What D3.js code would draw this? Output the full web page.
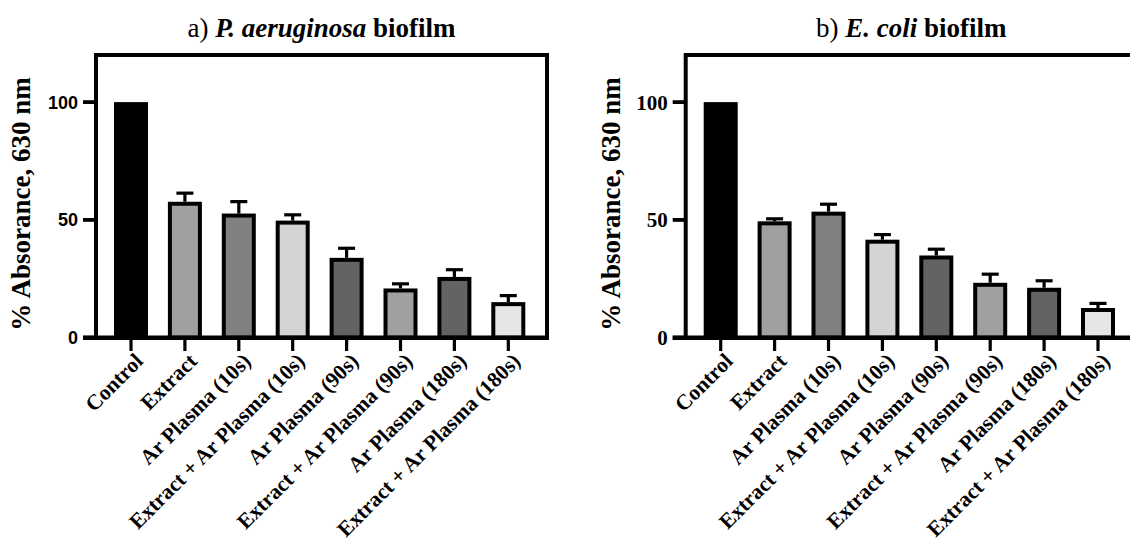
<!DOCTYPE html>
<html><head><meta charset="utf-8">
<script src="https://cdn.jsdelivr.net/npm/d3@7"></script>
<style>html,body{margin:0;padding:0;background:#fff;overflow:hidden}</style>
</head><body>
<svg id="c" width="1130" height="546"></svg>
<script>
const categories = ["Control","Extract","Ar Plasma (10s)","Extract + Ar Plasma (10s)","Ar Plasma (90s)","Extract + Ar Plasma (90s)","Ar Plasma (180s)","Extract + Ar Plasma (180s)"];
const paMeans = [100, 57.7, 52.7, 49.7, 33.9, 20.9, 25.8, 15.1];
const paErr   = [0, 4.3, 5.7, 3.1, 4.7, 2.6, 3.7, 3.4];
const ecMeans = [100, 49.4, 53.5, 41.6, 34.9, 23.3, 21.2, 12.6];
const ecErr   = [0, 1.7, 3.8, 2.8, 3.3, 4.3, 3.6, 2.6];
const fills = ["#000000","#a0a0a0","#808080","#d4d4d4","#636363","#a0a0a0","#636363","#e6e6e6"];
const yTicks = [0, 50, 100];

const svg = d3.select("#c");

function panel(opts){
  const L = opts.left, W = 451, top = 55, bottom = 337.7;
  const g = svg.append("g");
  const step = 53.9;
  const x = d3.scaleBand().domain(categories)
    .range([L + 35 - step/2, L + 35 - step/2 + 8*step])
    .paddingInner(0.397).paddingOuter(0.397/2);
  const y = d3.scaleLinear().domain([0,120]).range([bottom, top]);
  const sw = 4;
  const data = categories.map((c,i)=>({c, v:opts.means[i], e:opts.errs[i], f:fills[i]}));

  // error bars
  g.selectAll(".err").data(data.filter(d=>d.e>0)).enter().append("g").each(function(d){
    const cx = x(d.c) + x.bandwidth()/2;
    const s = d3.select(this);
    s.append("line").attr("x1",cx).attr("x2",cx).attr("y1",y(d.v)).attr("y2",y(d.v+d.e)+1.5)
      .attr("stroke","#000").attr("stroke-width",3.2);
    s.append("line").attr("x1",cx-8.5).attr("x2",cx+8.5).attr("y1",y(d.v+d.e)+1.5).attr("y2",y(d.v+d.e)+1.5)
      .attr("stroke","#000").attr("stroke-width",3.2);
  });
  // bars (stroke inside)
  g.selectAll(".bar").data(data).enter().append("rect")
    .attr("x", d=>x(d.c)-0.75+sw/2)
    .attr("width", x.bandwidth()+1.5-sw)
    .attr("y", d=>y(d.v)+sw/2)
    .attr("height", d=>y(0)-y(d.v)-sw/2)
    .attr("fill", d=>d.f).attr("stroke","#000").attr("stroke-width",sw);

  // frame
  g.append("path").attr("d",`M${L},${bottom} L${L},${top} L${L+W},${top} L${L+W},${bottom}`)
    .attr("fill","none").attr("stroke","#000").attr("stroke-width",4);
  // x axis line
  g.append("line").attr("x1",L-13).attr("x2",L+W+2).attr("y1",bottom).attr("y2",bottom)
    .attr("stroke","#000").attr("stroke-width",4.5);
  // x ticks
  g.selectAll(".xt").data(categories).enter().append("line")
    .attr("x1",d=>x(d)+x.bandwidth()/2).attr("x2",d=>x(d)+x.bandwidth()/2)
    .attr("y1",bottom).attr("y2",351).attr("stroke","#000").attr("stroke-width",3.2);
  // x labels
  g.selectAll(".xl").data(categories).enter().append("text")
    .attr("transform",d=>`translate(${x(d)+x.bandwidth()/2+8},${357}) rotate(-45)`)
    .attr("text-anchor","end").attr("dy","0.35em")
    .attr("font-family","'Liberation Serif','Times New Roman',serif").attr("font-weight","bold")
    .attr("font-size",21.5).text(d=>d);
  // y ticks
  g.selectAll(".yt").data(yTicks).enter().append("line")
    .attr("x1",L-13).attr("x2",L).attr("y1",d=>y(d)).attr("y2",d=>y(d))
    .attr("stroke","#000").attr("stroke-width",3.8);
  g.selectAll(".yl").data(yTicks).enter().append("text")
    .attr("x",L-18).attr("y",d=>y(d)).attr("dy","0.36em").attr("text-anchor","end")
    .attr("font-family",opts.tickFont).attr("font-weight","bold").attr("font-size",opts.tickSize)
    .text(d=>d);
  // y title
  g.append("text").attr("transform",`translate(${L-66},${204}) rotate(-90)`)
    .attr("text-anchor","middle")
    .attr("font-family","'Liberation Serif','Times New Roman',serif").attr("font-weight","bold")
    .attr("font-size",27).text("% Absorance, 630 nm");
  // title
  const t = g.append("text").attr("x",L+W/2).attr("y",37).attr("text-anchor","middle")
    .attr("font-family","'Liberation Serif','Times New Roman',serif").attr("font-size",27);
  t.append("tspan").text(opts.t1);
  t.append("tspan").attr("font-weight","bold").attr("font-style","italic").text(opts.t2);
  t.append("tspan").attr("font-weight","bold").text(opts.t3);
}

panel({left:96, means:paMeans, errs:paErr, tickFont:"'Liberation Sans',Arial,sans-serif", tickSize:18,
  t1:"a) ", t2:"P. aeruginosa", t3:" biofilm"});
panel({left:685.7, means:ecMeans, errs:ecErr, tickFont:"'Liberation Serif','Times New Roman',serif", tickSize:21,
  t1:"b) ", t2:"E. coli", t3:" biofilm"});
</script>
</body></html>
